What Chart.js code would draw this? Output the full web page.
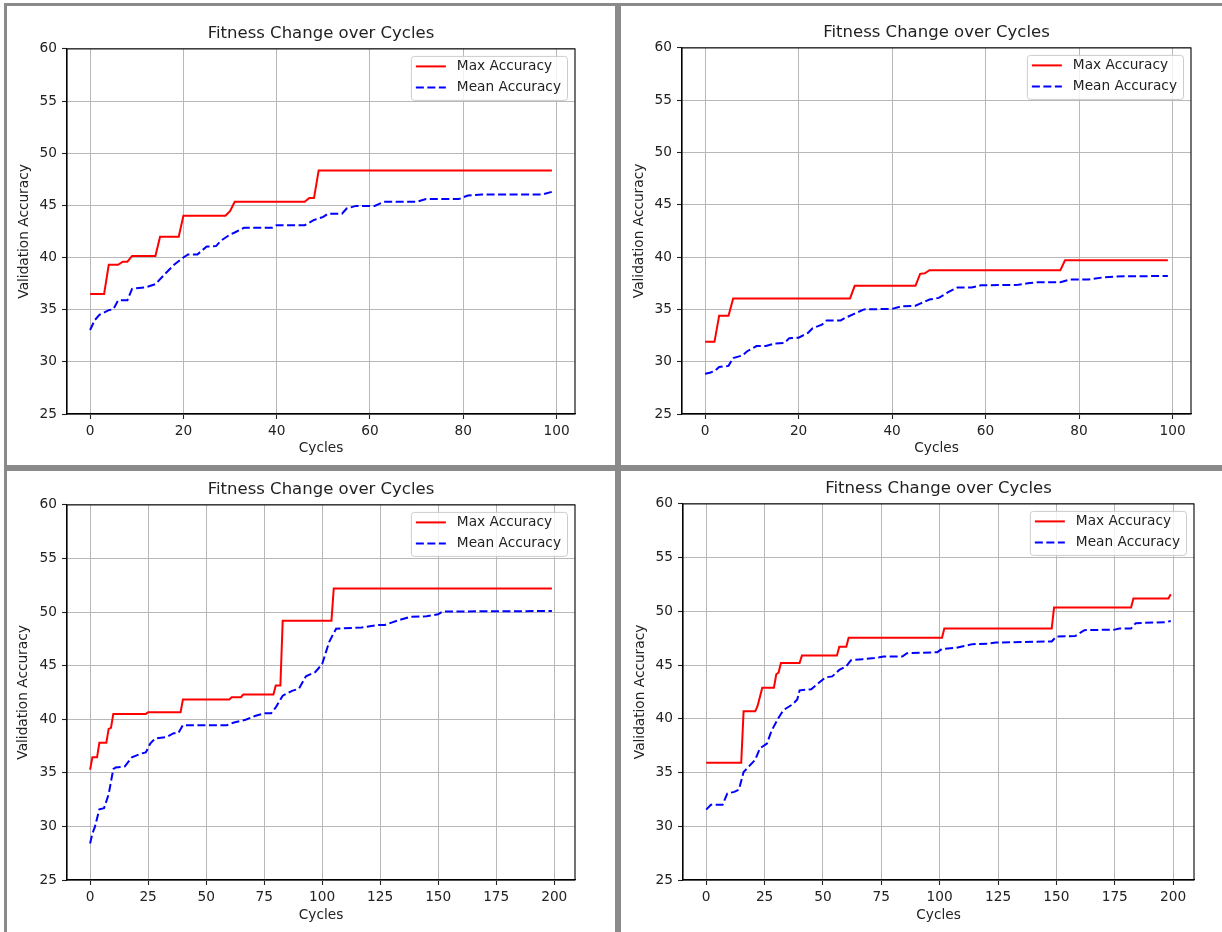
<!DOCTYPE html>
<html>
<head>
<meta charset="utf-8">
<script src="https://cdn.jsdelivr.net/npm/chart.js@4.4.0/dist/chart.umd.min.js"></script>
<style>
  html, body { margin: 0; padding: 0; background: #fff; width: 1222px; height: 932px; overflow: hidden; }
  .panel { position: absolute; box-sizing: border-box; border: 3px solid #8a8a8a; overflow: hidden; background: #fff; }
  .panel canvas { position: absolute; left: 0; top: 0; }
</style>
</head>
<body>
<div class="panel" style="left:4px;top:3px;width:614px;height:465px"><canvas id="chart1"></canvas></div>
<div class="panel" style="left:618px;top:3px;width:610px;height:465px"><canvas id="chart2"></canvas></div>
<div class="panel" style="left:4px;top:468px;width:614px;height:470px"><canvas id="chart3"></canvas></div>
<div class="panel" style="left:618px;top:468px;width:610px;height:470px"><canvas id="chart4"></canvas></div>
<script>
const chartTitle = 'Fitness Change over Cycles';
const seriesLabels = ['Max Accuracy', 'Mean Accuracy'];
const xTicks100 = [0, 20, 40, 60, 80, 100];
const xTicks200 = [0, 25, 50, 75, 100, 125, 150, 175, 200];
const yTicks = [25, 30, 35, 40, 45, 50, 55, 60];

// top left, 100 cycles (vertices of the step curves)
const maxCycles1 = [0, 3, 4, 6, 7, 8, 9, 14, 15, 19, 20, 29, 30, 31, 46, 47, 48, 49, 99];
const maxAcc1 = [36.5, 36.5, 39.3, 39.3, 39.6, 39.6, 40.15, 40.15, 42.0, 42.0, 44.0, 44.0, 44.45, 45.35, 45.35, 45.7, 45.7, 48.35, 48.35];
const meanCycles1 = [0, 1, 2, 4, 5, 6, 8, 9, 12, 14, 16, 18, 20, 21, 23, 25, 27, 28, 30, 31, 33, 39, 40, 46, 48, 50, 51, 54, 55, 57, 61, 63, 70, 72, 79, 81, 84, 97, 99];
const meanAcc1 = [33.05, 34.0, 34.5, 34.95, 35.05, 35.9, 35.9, 37.0, 37.15, 37.45, 38.4, 39.3, 40.0, 40.3, 40.3, 41.05, 41.1, 41.6, 42.2, 42.4, 42.85, 42.85, 43.1, 43.1, 43.6, 43.9, 44.2, 44.2, 44.7, 44.95, 44.95, 45.35, 45.35, 45.6, 45.6, 45.95, 46.05, 46.05, 46.3];

// top right, 100 cycles
const maxCycles2 = [0, 2, 3, 5, 6, 31, 32, 45, 46, 47, 48, 76, 77, 99];
const maxAcc2 = [31.9, 31.9, 34.4, 34.4, 36.05, 36.05, 37.25, 37.25, 38.4, 38.45, 38.75, 38.75, 39.7, 39.7];
const meanCycles2 = [0, 1, 2, 3, 5, 6, 8, 9, 11, 13, 15, 17, 18, 20, 22, 23, 25, 26, 29, 30, 32, 34, 40, 42, 45, 46, 48, 50, 52, 54, 57, 59, 67, 69, 71, 76, 78, 82, 85, 88, 99];
const meanAcc2 = [28.85, 28.95, 29.1, 29.5, 29.6, 30.35, 30.6, 31.0, 31.5, 31.5, 31.75, 31.8, 32.25, 32.3, 32.75, 33.2, 33.55, 33.95, 33.95, 34.2, 34.6, 35.0, 35.05, 35.3, 35.35, 35.55, 35.95, 36.1, 36.65, 37.1, 37.1, 37.3, 37.35, 37.5, 37.6, 37.6, 37.85, 37.85, 38.05, 38.15, 38.2];

// bottom left, 200 cycles
const maxCycles3 = [0, 1, 3, 4, 7, 8, 9, 10, 24, 25, 39, 40, 60, 61, 65, 66, 79, 80, 82, 83, 104, 105, 199];
const maxAcc3 = [35.3, 36.45, 36.45, 37.8, 37.8, 39.1, 39.2, 40.5, 40.5, 40.65, 40.65, 41.85, 41.85, 42.05, 42.05, 42.3, 42.3, 43.15, 43.15, 49.2, 49.2, 52.2, 52.2];
const meanCycles3 = [0, 1, 2, 4, 6, 8, 10, 11, 15, 18, 22, 24, 26, 28, 33, 36, 38, 40, 59, 62, 67, 71, 75, 78, 80, 83, 87, 90, 93, 97, 100, 103, 106, 117, 124, 127, 133, 138, 145, 150, 152, 199];
const meanAcc3 = [28.4, 29.35, 29.9, 31.6, 31.7, 33.0, 35.35, 35.5, 35.6, 36.45, 36.8, 36.9, 37.75, 38.2, 38.35, 38.7, 38.7, 39.45, 39.45, 39.7, 39.95, 40.3, 40.55, 40.55, 41.1, 42.2, 42.65, 42.85, 44.0, 44.4, 45.15, 47.2, 48.45, 48.55, 48.8, 48.8, 49.25, 49.55, 49.6, 49.8, 50.05, 50.1];

// bottom right, 200 cycles
const maxCycles4 = [0, 15, 16, 21, 22, 24, 29, 30, 31, 32, 40, 41, 56, 57, 60, 61, 101, 102, 148, 149, 182, 183, 198, 199];
const maxAcc4 = [35.9, 35.9, 40.7, 40.7, 41.2, 42.9, 42.9, 44.15, 44.3, 45.2, 45.2, 45.9, 45.9, 46.7, 46.7, 47.55, 47.55, 48.4, 48.4, 50.35, 50.35, 51.2, 51.2, 51.6];
const meanCycles4 = [0, 2, 7, 9, 12, 14, 16, 18, 21, 23, 26, 28, 31, 33, 37, 39, 40, 45, 48, 51, 54, 57, 60, 62, 67, 72, 76, 84, 86, 99, 101, 107, 110, 114, 121, 124, 148, 150, 158, 162, 175, 177, 182, 184, 197, 199];
const meanAcc4 = [31.55, 32.0, 32.0, 33.05, 33.2, 33.4, 35.05, 35.5, 36.2, 37.25, 37.7, 38.9, 40.1, 40.8, 41.35, 41.8, 42.65, 42.75, 43.3, 43.85, 43.95, 44.55, 44.9, 45.45, 45.55, 45.65, 45.8, 45.8, 46.1, 46.2, 46.5, 46.6, 46.75, 46.95, 47.0, 47.1, 47.2, 47.65, 47.7, 48.25, 48.3, 48.4, 48.4, 48.9, 49.0, 49.1];

const FONT = 'DejaVu Sans';
const TEXT = '#222';
Chart.defaults.font.family = FONT;
Chart.defaults.color = TEXT;

const toPoints = (xs, ys) => xs.map((x, i) => ({ x: x, y: ys[i] }));

// matplotlib style top/right spines
const axesFrame = {
    id: 'axesFrame',
    afterDatasetsDraw(chart) {
        const { ctx, chartArea: a } = chart;
        ctx.save();
        ctx.strokeStyle = '#000';
        ctx.lineWidth = 1.1;
        ctx.strokeRect(a.left, a.top, a.right - a.left, a.bottom - a.top);
        ctx.restore();
    }
};

// legend box in the upper right corner of the axes
const boxLegend = {
    id: 'boxLegend',
    afterDatasetsDraw(chart) {
        const { ctx, chartArea: a } = chart;
        const sets = chart.data.datasets;
        ctx.save();
        ctx.font = '13.7px "' + FONT + '"';
        const textW = Math.max(...sets.map(d => ctx.measureText(d.label).width));
        const w = 46 + textW + 6, h = 44;
        const x = a.right - 8 - w, y = a.top + 7;
        ctx.beginPath();
        ctx.roundRect(x + 0.5, y + 0.5, w, h, 3);
        ctx.fillStyle = 'rgba(255,255,255,0.8)';
        ctx.fill();
        ctx.strokeStyle = '#cccccc';
        ctx.lineWidth = 1;
        ctx.stroke();
        sets.forEach((d, i) => {
            const cy = y + 10.5 + i * 21;
            ctx.beginPath();
            ctx.setLineDash(d.borderDash || []);
            ctx.strokeStyle = d.borderColor;
            ctx.lineWidth = d.borderWidth;
            ctx.moveTo(x + 5, cy);
            ctx.lineTo(x + 35, cy);
            ctx.stroke();
            ctx.setLineDash([]);
            ctx.fillStyle = TEXT;
            ctx.textBaseline = 'middle';
            ctx.fillText(d.label, x + 46, cy);
        });
        ctx.restore();
    }
};

function drawPanel(canvasId, p) {
    const canvas = document.getElementById(canvasId);
    canvas.width = p.width;
    canvas.height = p.height;
    const tickFont = { size: 13.7 };

    return new Chart(canvas.getContext('2d'), {
        type: 'line',
        data: {
            datasets: [{
                label: seriesLabels[0],
                data: toPoints(p.maxX, p.maxY),
                borderColor: '#ff0000',
                borderWidth: 2,
                pointRadius: 0,
                tension: 0,
                fill: false
            }, {
                label: seriesLabels[1],
                data: toPoints(p.meanX, p.meanY),
                borderColor: '#0000ff',
                borderWidth: 2,
                borderDash: [8, 3.5],
                pointRadius: 0,
                tension: 0,
                fill: false
            }]
        },
        options: {
            responsive: false,
            animation: false,
            events: [],
            layout: { padding: { left: 0, top: 0, bottom: 0, right: p.padRight } },
            plugins: {
                legend: { display: false },
                tooltip: { enabled: false },
                title: {
                    display: true,
                    fullSize: false,
                    text: chartTitle,
                    color: TEXT,
                    font: { size: 16.5, weight: 'normal' },
                    padding: { top: p.top - 24.8, bottom: 4.9 }
                }
            },
            scales: {
                x: {
                    type: 'linear',
                    min: p.xMin,
                    max: p.xMax,
                    afterBuildTicks: s => { s.ticks = p.xTicks.map(v => ({ value: v })); },
                    afterFit: s => { s.height = p.xAxisHeight; },
                    grid: { color: '#b8b8b8', lineWidth: 1, tickLength: 5, tickColor: '#222', tickWidth: 1.1 },
                    border: { display: true, color: '#000', width: 1.1 },
                    ticks: { font: tickFont, padding: 4.5, autoSkip: false, maxRotation: 0, callback: v => String(v) },
                    title: { display: true, text: 'Cycles', font: tickFont, padding: { top: 0, bottom: p.xTitleOff - 8.2 } }
                },
                y: {
                    type: 'linear',
                    min: 25,
                    max: 60,
                    afterBuildTicks: s => { s.ticks = yTicks.map(v => ({ value: v })); },
                    afterFit: s => { s.width = p.yAxisWidth; },
                    grid: { color: '#b8b8b8', lineWidth: 1, tickLength: 5, tickColor: '#222', tickWidth: 1.1 },
                    border: { display: true, color: '#000', width: 1.1 },
                    ticks: { font: tickFont, padding: 5, autoSkip: false, callback: v => String(v) },
                    title: { display: true, text: 'Validation Accuracy', font: tickFont, padding: { top: p.yTitleOff - 8.2, bottom: 0 } }
                }
            }
        },
        plugins: [axesFrame, boxLegend]
    });
}

drawPanel('chart1', {
    width: 628, height: 459, padRight: 60, top: 43, xAxisHeight: 51, yAxisWidth: 60,
    yTitleOff: 17.5, xTitleOff: 17, xMin: -4.95, xMax: 103.95, xTicks: xTicks100,
    maxX: maxCycles1, maxY: maxAcc1, meanX: meanCycles1, meanY: meanAcc1
});
drawPanel('chart2', {
    width: 631, height: 459, padRight: 61, top: 42, xAxisHeight: 51, yAxisWidth: 61,
    yTitleOff: 18.6, xTitleOff: 16.7, xMin: -4.95, xMax: 103.95, xTicks: xTicks100,
    maxX: maxCycles2, maxY: maxAcc2, meanX: meanCycles2, meanY: meanAcc2
});
drawPanel('chart3', {
    width: 628, height: 461, padRight: 60, top: 34, xAxisHeight: 52, yAxisWidth: 60,
    yTitleOff: 16.7, xTitleOff: 16.3, xMin: -9.95, xMax: 208.95, xTicks: xTicks200,
    maxX: maxCycles3, maxY: maxAcc3, meanX: meanCycles3, meanY: meanAcc3
});
drawPanel('chart4', {
    width: 635, height: 461, padRight: 62, top: 33, xAxisHeight: 52, yAxisWidth: 62,
    yTitleOff: 19.8, xTitleOff: 16.3, xMin: -9.95, xMax: 208.95, xTicks: xTicks200,
    maxX: maxCycles4, maxY: maxAcc4, meanX: meanCycles4, meanY: meanAcc4
});
</script>
</body>
</html>
